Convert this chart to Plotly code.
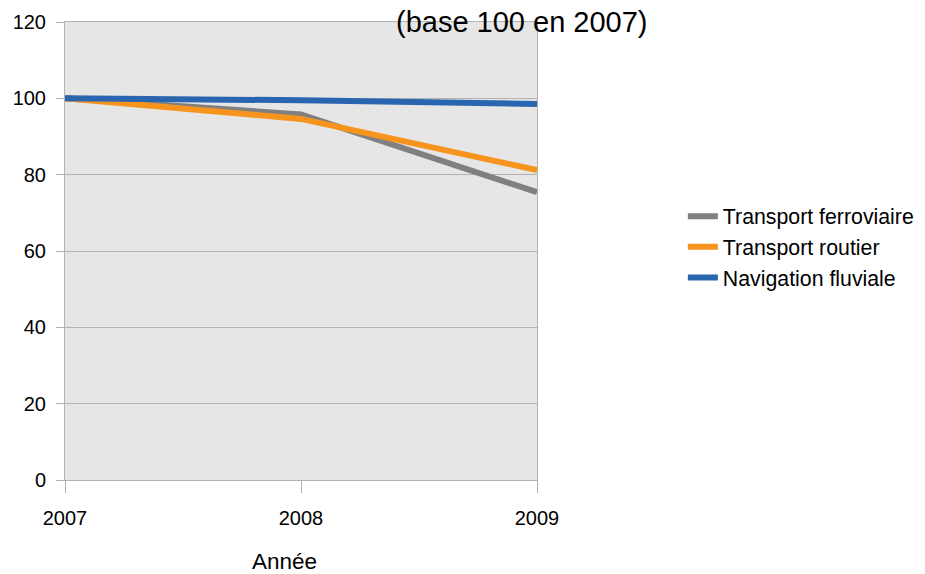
import plotly.graph_objects as go

years = [2007, 2008, 2009]
ferroviaire = [100, 95.8, 75.4]
routier = [100, 94.6, 81.2]
fluviale = [100, 99.5, 98.5]
y_ticks = [0, 20, 40, 60, 80, 100, 120]

FONT = "Liberation Sans, Arial, sans-serif"

fig = go.Figure()
fig.add_trace(go.Scatter(x=years, y=ferroviaire, mode="lines", name="Transport ferroviaire",
                         line=dict(color="#808080", width=6)))
fig.add_trace(go.Scatter(x=years, y=routier, mode="lines", name="Transport routier",
                         line=dict(color="#f7941d", width=6)))
fig.add_trace(go.Scatter(x=years, y=fluviale, mode="lines", name="Navigation fluviale",
                         line=dict(color="#2a66b0", width=6)))

# the page body has an 8px margin, so the figure is shifted by 8px; compensate
fig.update_layout(
    width=933, height=582,
    margin=dict(l=57, r=404, t=14, b=110, autoexpand=False),
    paper_bgcolor="white",
    plot_bgcolor="#e6e6e6",
    font=dict(family=FONT, size=20, color="black"),
    showlegend=True,
    legend=dict(x=1.309, xanchor="left", y=0.508, yanchor="middle",
                font=dict(size=21.3), bgcolor="rgba(0,0,0,0)", tracegroupgap=0),
    annotations=[
        dict(text="(base 100 en 2007)", xref="paper", yref="paper",
             x=0.968, y=1, xanchor="center", yanchor="middle", yshift=0,
             showarrow=False, font=dict(size=29, family=FONT)),
        dict(text="Année", xref="paper", yref="paper",
             x=0.466, y=-0.178, xanchor="center", yanchor="middle",
             showarrow=False, font=dict(size=22.5, family=FONT)),
    ],
)
fig.update_xaxes(range=[2007, 2009], tickvals=years, ticktext=[str(y) for y in years],
                 showgrid=False, showline=True, linecolor="#b3b3b3", linewidth=1,
                 mirror=True, ticks="outside", ticklen=12, tickcolor="#b3b3b3",
                 ticklabelstandoff=8, automargin=False, zeroline=False)
fig.update_yaxes(range=[0, 120], tickvals=y_ticks, showgrid=True, gridcolor="#b3b3b3",
                 gridwidth=1, showline=True, linecolor="#b3b3b3", mirror=True,
                 ticks="outside", ticklen=8, tickcolor="#b3b3b3", zeroline=False,
                 ticklabelstandoff=6, automargin=False)

fig.write_html("out.html")
